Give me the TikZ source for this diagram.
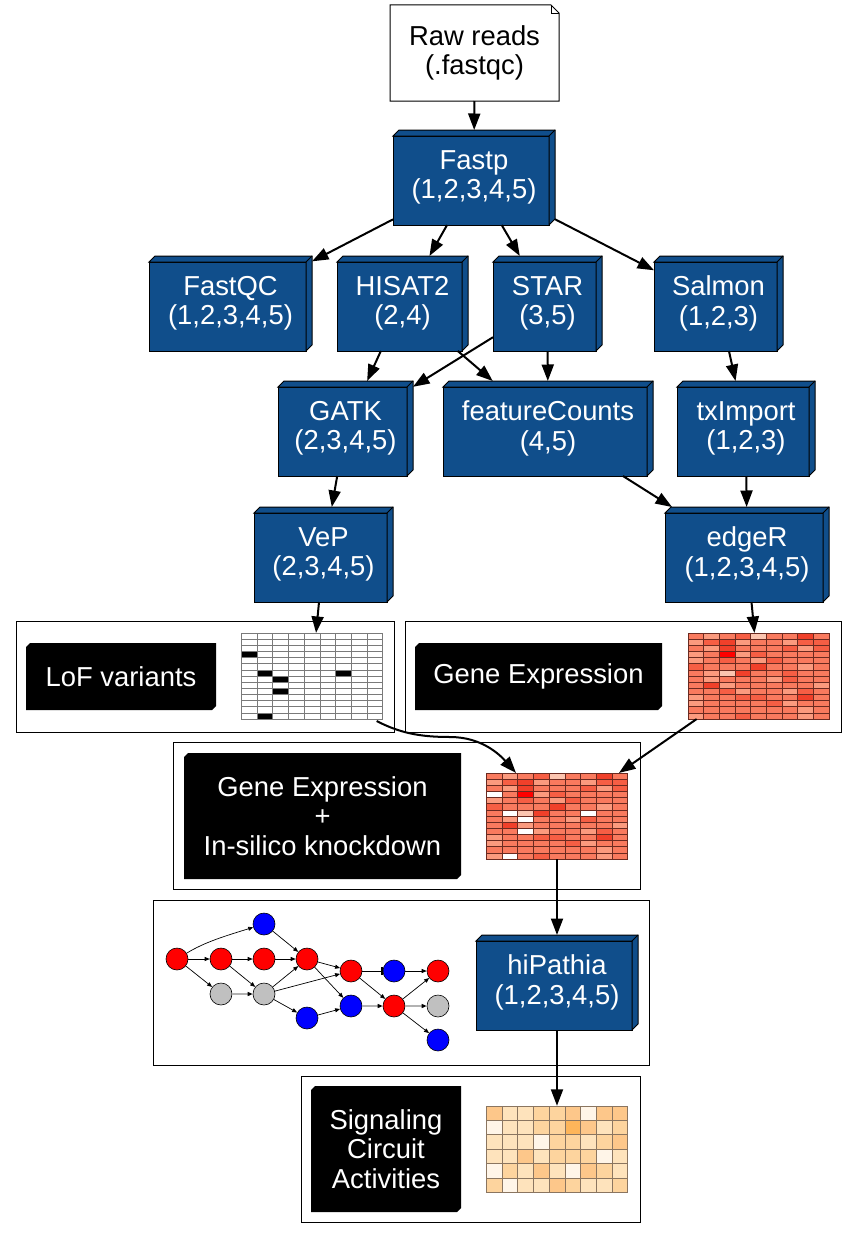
\documentclass[tikz,border=0pt]{standalone}
\usepackage{fontspec}
\setmainfont{Liberation Sans}
\usetikzlibrary{arrows.meta, backgrounds}
\definecolor{gvblue}{HTML}{104E8B}
\definecolor{gred}{HTML}{FF0000}
\definecolor{gblue}{HTML}{0000FF}
\definecolor{ggrey}{HTML}{C0C0C0}
% heatmap palettes
\definecolor{ge0}{HTML}{FFFFFF}
\definecolor{ge1}{HTML}{FCC5B0}
\definecolor{ge2}{HTML}{FB9A7E}
\definecolor{ge3}{HTML}{F97A5E}
\definecolor{ge4}{HTML}{F65E44}
\definecolor{ge5}{HTML}{F0402A}
\definecolor{ge6}{HTML}{FF0000}
\definecolor{geline}{HTML}{6B2A20}
\definecolor{lof0}{HTML}{FFFFFF}
\definecolor{lof1}{HTML}{000000}
\definecolor{lofline}{HTML}{7A7A7A}
\definecolor{sca0}{HTML}{FFF5E8}
\definecolor{sca1}{HTML}{FEE3BC}
\definecolor{sca2}{HTML}{FDD49E}
\definecolor{sca3}{HTML}{FDC78A}
\definecolor{sca4}{HTML}{FDB55A}
\definecolor{scaline}{HTML}{8A7560}
\newcommand{\gvfont}{\fontsize{27.4pt}{29.5pt}\selectfont}
\tikzset{
  every picture/.style={font=\gvfont},
  tool/.style={minimum height=95, inner sep=0, outer sep=0, text=white, align=center},
  toolface/.style={fill=gvblue, draw=black, line width=1pt},
  note/.style={minimum width=169, minimum height=96, inner sep=0, outer sep=0, align=center},
  cluster/.style={draw, line width=1pt, inner sep=0, outer sep=0},
  panel/.style={text=white, align=center, inner sep=0, outer sep=0},
  map/.style={minimum width=141.3, minimum height=86.1, inner sep=0, outer sep=0},
  gene/.style={circle, draw, fill=#1, minimum size=22, inner sep=0, line width=0.6pt},
  flow/.style={-{Triangle[length=16.5pt,width=12pt]}, line width=2pt},
  link/.style={-{Triangle[length=5pt,width=4pt]}, line width=0.7pt},
  dimlink/.style={-{Triangle[length=5pt,width=4pt,black]}, line width=1.6pt, draw=gray!60},
  block/.style={-{Bar[width=8pt,line width=1.6pt]}, line width=0.7pt},
}
% 3d sides of a tool box (node = outer box)
\newcommand{\boxthreed}[1]{%
  \filldraw[toolface] ([shift={(0,6)}]#1.north west) rectangle ([shift={(-6,0)}]#1.south east);
  \filldraw[toolface] ([shift={(0,6)}]#1.north west) -- ([shift={(6,0)}]#1.north west) -- (#1.north east)
    -- ([shift={(0,-6)}]#1.south east) -- ([shift={(-6,0)}]#1.south east) -- ([shift={(-6,6)}]#1.north east) -- cycle;
  \draw[toolface] ([shift={(-6,6)}]#1.north east) -- (#1.north east);
}
% black label plate, corners cut at top left and bottom right
\newcommand{\plate}[1]{%
  \fill ([shift={(4,0)}]#1.north west) -- (#1.north east) -- ([shift={(0,-4)}]#1.south east)
    -- ([shift={(-4,0)}]#1.south east) -- (#1.south west) -- ([shift={(0,4)}]#1.north west) -- cycle;
}
% grid of cells below the north west corner of a node
\newcommand{\cellgrid}[4]{%
  \foreach \row [count=\rw from 0] in {#4} {
    \foreach \val [count=\cl from 0] in \row {
      \filldraw[fill=#2\val, draw=#2line, line width=0.6pt]
        ([shift={(\cl*15.7,\rw*#3)}]#1.north west) rectangle ++(15.7,#3);
    }
  }
}

\begin{document}
\begin{tikzpicture}[x=1pt, y=-1pt]
  \useasboundingbox (0,0) rectangle (857,1239);

  % pipeline
  \node[note] (raw) at (474.5,53) {Raw reads\\(.fastqc)};
  \node[tool, minimum width=162] (fastp) at (474,177.5) {Fastp\\(1,2,3,4,5)};
  \node[tool, minimum width=163] (fastqc) at (230.5,303.5) {FastQC\\(1,2,3,4,5)};
  \node[tool, minimum width=131] (hisat) at (402.5,303.5) {HISAT2\\(2,4)};
  \node[tool, minimum width=109] (star) at (547.5,303.5) {STAR\\(3,5)};
  \node[tool, minimum width=129] (salmon) at (718.5,303.5) {Salmon\\(1,2,3)};
  \node[tool, minimum width=135] (gatk) at (345.5,428.5) {GATK\\(2,3,4,5)};
  \node[tool, minimum width=210] (fcounts) at (548,428.5) {featureCounts\\(4,5)};
  \node[tool, minimum width=138] (tximport) at (746,428.5) {txImport\\(1,2,3)};
  \node[tool, minimum width=139] (vep) at (323.5,554.5) {VeP\\(2,3,4,5)};
  \node[tool, minimum width=164] (edger) at (747,554.5) {edgeR\\(1,2,3,4,5)};
  \node[tool, minimum width=162] (hipathia) at (557,982.5) {hiPathia\\(1,2,3,4,5)};

  \draw[line width=1pt] (raw.south west) -- (raw.north west) -- ([shift={(-8,0)}]raw.north east)
    -- ([shift={(0,8)}]raw.north east) -- (raw.south east) -- cycle;
  \draw[line width=0.6pt] ([shift={(-8,0)}]raw.north east) -- ([shift={(-8,8)}]raw.north east) -- ([shift={(0,8)}]raw.north east);

  % result groups
  \node[cluster, minimum width=378, minimum height=111] (lofgrp) at (205,676.5) {};
  \node[cluster, minimum width=436, minimum height=111] (gegrp) at (623,676.5) {};
  \node[cluster, minimum width=467, minimum height=147] (kdgrp) at (406.5,815.5) {};
  \node[cluster, minimum width=496, minimum height=165] (netgrp) at (401,982.5) {};
  \node[cluster, minimum width=339, minimum height=146] (scagrp) at (470.5,1149) {};

  \node[panel, minimum width=190, minimum height=67] (lofbox) at (121,676.5) {LoF variants};
  \node[panel, minimum width=247, minimum height=67] (gebox) at (538.5,676.5) {Gene Expression};
  \node[panel, minimum width=277, minimum height=126] (kdbox) at (322.5,816) {Gene Expression\\+\\In-silico knockdown};
  \node[panel, minimum width=150, minimum height=126] (scabox) at (386,1149) {Signaling\\Circuit\\Activities};

  \begin{scope}[on background layer]
    \foreach \t in {fastp,fastqc,hisat,star,salmon,gatk,fcounts,tximport,vep,edger,hipathia}
      {\boxthreed{\t}}
    \foreach \p in {lofbox,gebox,kdbox,scabox}
      {\plate{\p}}
  \end{scope}

  \node[map] (lofmap) at (312,676) {};
  \node[map] (gemap) at (758.5,676) {};
  \node[map] (kdmap) at (557,816) {};
  \node[map, minimum height=86.4] (scamap) at (557,1149) {};

  \cellgrid{lofmap}{lof}{6.15}{
    {0,0,0,0,0,0,0,0,0},{0,0,0,0,0,0,0,0,0},{0,0,0,0,0,0,0,0,0},{1,0,0,0,0,0,0,0,0},
    {0,0,0,0,0,0,0,0,0},{0,0,0,0,0,0,0,0,0},{0,1,0,0,0,0,1,0,0},{0,0,1,0,0,0,0,0,0},
    {0,0,0,0,0,0,0,0,0},{0,0,1,0,0,0,0,0,0},{0,0,0,0,0,0,0,0,0},{0,0,0,0,0,0,0,0,0},
    {0,0,0,0,0,0,0,0,0},{0,1,0,0,0,0,0,0,0}}
  \cellgrid{gemap}{ge}{6.15}{
    {3,2,3,4,1,3,3,5,3},{2,4,5,2,3,3,2,4,4},{3,2,5,3,3,3,4,2,4},{2,3,6,2,4,3,3,3,3},
    {2,3,4,3,2,4,3,3,3},{4,3,3,3,5,3,3,2,3},{3,2,1,5,3,3,4,3,3},{3,2,3,3,3,2,4,3,3},
    {3,5,2,3,3,3,3,3,2},{3,3,4,2,3,3,2,4,3},{2,3,3,4,4,3,3,5,3},{2,3,3,3,3,4,2,3,3},
    {3,3,3,3,3,3,3,2,3},{2,3,3,4,3,3,3,2,3}}
  \cellgrid{kdmap}{ge}{6.15}{
    {3,2,3,4,1,3,3,5,3},{2,4,5,2,3,3,2,4,4},{3,2,5,3,3,3,4,2,4},{0,3,6,2,4,3,3,3,3},
    {2,3,4,3,2,4,3,3,3},{4,3,3,3,5,3,3,2,3},{3,0,1,5,3,3,0,3,3},{3,2,0,3,3,2,4,3,3},
    {3,5,2,3,3,3,3,3,2},{3,3,0,2,3,3,2,4,3},{2,3,3,4,4,3,3,5,3},{2,3,3,3,3,4,2,3,3},
    {3,3,3,3,3,3,3,2,3},{2,0,3,4,3,3,3,2,3}}
  \cellgrid{scamap}{sca}{14.4}{
    {3,1,1,2,2,3,0,3,3},{0,1,1,2,2,4,3,1,2},{1,1,1,0,2,2,1,2,3},
    {1,1,3,1,2,2,2,0,1},{0,2,1,3,1,0,3,2,1},{2,0,1,1,3,2,1,1,2}}

  % pathway network
  \node[gene=gred] (g1) at (177,959) {};
  \node[gene=gblue] (g2) at (264,924) {};
  \node[gene=gred] (g3) at (221,959) {};
  \node[gene=gred] (g4) at (264,959) {};
  \node[gene=ggrey] (g5) at (221,994) {};
  \node[gene=ggrey] (g6) at (264,994) {};
  \node[gene=gred] (g7) at (307,959) {};
  \node[gene=gblue] (g8) at (307,1018) {};
  \node[gene=gred] (g9) at (351,971) {};
  \node[gene=gblue] (g10) at (351,1006) {};
  \node[gene=gblue] (g11) at (394,971) {};
  \node[gene=gred] (g12) at (394,1006) {};
  \node[gene=gred] (g13) at (438,971) {};
  \node[gene=ggrey] (g14) at (438,1006) {};
  \node[gene=gblue] (g15) at (438,1040) {};

  \draw[link] (g1) .. controls (205,942) and (225,936) .. (g2);
  \draw[link] (g1) -- (g3);
  \draw[link] (g1) -- (g5);
  \draw[link] (g3) -- (g4);
  \draw[link] (g3) -- (g6);
  \draw[dimlink] (g5) -- (g6);
  \draw[link] (g2) -- (g7);
  \draw[link] (g4) -- (g7);
  \draw[link] (g6) -- (g7);
  \draw[link] (g6) -- (g9);
  \draw[link] (g6) -- (g8);
  \draw[link] (g7) -- (g9);
  \draw[link] (g7) -- (g10);
  \draw[link] (g8) -- (g10);
  \draw[block] (g9) -- (g11);
  \draw[link] (g9) -- (g12);
  \draw[dimlink] (g10) -- (g12);
  \draw[link] (g11) -- (g13);
  \draw[link] (g12) -- (g13);
  \draw[dimlink] (g12) -- (g14);
  \draw[link] (g12) -- (g15);

  % flow
  \draw[flow] (raw) -- (fastp);
  \draw[flow] (fastp) -- (fastqc);
  \draw[flow] (fastp) -- (hisat);
  \draw[flow] (fastp) -- (star);
  \draw[flow] (fastp) -- (salmon);
  \draw[flow] (hisat) -- (gatk);
  \draw[flow] (hisat) -- (fcounts);
  \draw[flow] (star) -- (gatk);
  \draw[flow] (star) -- (fcounts);
  \draw[flow] (salmon) -- (tximport);
  \draw[flow] (gatk) -- (vep);
  \draw[flow] (fcounts) -- (edger);
  \draw[flow] (tximport) -- (edger);
  \draw[flow] (vep) -- (lofmap);
  \draw[flow] (edger) -- (gemap);
  \draw[flow] ([shift={(-6,2)}]lofmap.south east) .. controls (400,733) and (420,737) .. (450,737)
    .. controls (482,737) and (500,755) .. ([shift={(-41,0)}]kdmap.north);
  \draw[flow] (gemap) -- (kdmap);
  \draw[flow] (kdmap) -- (hipathia);
  \draw[flow] (hipathia) -- (scamap);
\end{tikzpicture}
\end{document}
